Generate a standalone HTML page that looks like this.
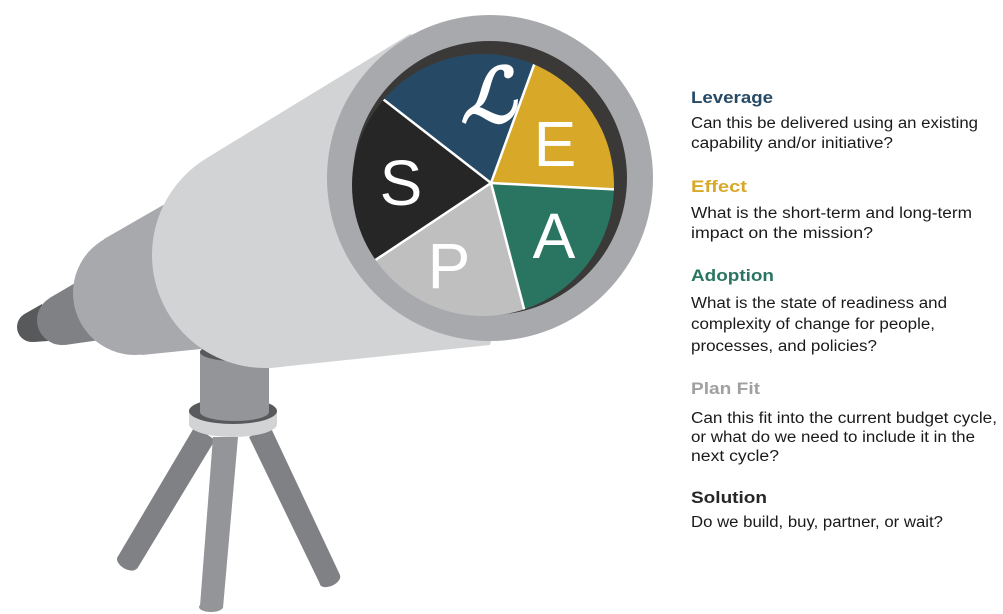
<!DOCTYPE html>
<html><head><meta charset="utf-8"><style>html,body{margin:0;padding:0;background:#fff}svg{display:block}</style></head>
<body>
<svg width="1003" height="614" viewBox="0 0 1003 614" xmlns="http://www.w3.org/2000/svg">
<defs><clipPath id="pie"><circle cx="483" cy="185" r="131"/></clipPath></defs>
<!-- tripod legs -->
<polygon points="195,426 215,440 137,569 117,558" fill="#808184"/>
<ellipse cx="127" cy="563" rx="11" ry="6" transform="rotate(30 127 563)" fill="#808184"/>
<polygon points="249,437 270,426 340,575 320,584" fill="#808184"/>
<ellipse cx="330" cy="580" rx="11" ry="6" transform="rotate(-25 330 580)" fill="#808184"/>
<polygon points="213,437 238,437 223,608 200,606" fill="#939598"/>
<ellipse cx="211" cy="607" rx="12" ry="5" fill="#939598"/>
<!-- collar -->
<ellipse cx="233" cy="424" rx="44" ry="13" fill="#d1d3d4"/>
<rect x="189" y="411" width="88" height="13" fill="#d1d3d4"/>
<ellipse cx="233" cy="411" rx="44" ry="13" fill="#58595b"/>
<!-- post -->
<rect x="200" y="352" width="69" height="60" fill="#939598"/>
<ellipse cx="234.5" cy="412" rx="34.5" ry="9" fill="#939598"/>
<ellipse cx="234.5" cy="352" rx="34.5" ry="9" fill="#58595b"/>
<!-- eyepiece sections -->
<polygon points="24.5,314 42,304 48,341 34,342" fill="#58595b"/>
<circle cx="32" cy="327" r="15" fill="#58595b"/>
<polygon points="49.5,298 82,279 100,340 65,345" fill="#808184"/>
<circle cx="62" cy="320" r="25" fill="#808184"/>
<polygon points="104,239 165,204 240,345 142,355" fill="#a7a9ac"/>
<circle cx="135" cy="293" r="62" fill="#a7a9ac"/>
<!-- main tube -->
<polygon points="206,158.5 410,34 560,100 490,345 270,368" fill="#d1d3d4"/>
<circle cx="265" cy="255" r="113" fill="#d1d3d4"/>
<!-- lens ring -->
<circle cx="490" cy="178" r="163" fill="#a7a9ac"/>
<circle cx="490" cy="178" r="137" fill="#3a3937"/>
<g clip-path="url(#pie)">
<polygon points="491,183 533,67 540,-20 380,-20 350,60 380,97" fill="#264a66"/>
<polygon points="491,183 533,67 580,-20 700,0 700,190 614,190" fill="#d8a829"/>
<polygon points="491,183 614,190 700,190 700,340 525,312" fill="#2a7561"/>
<polygon points="491,183 525,312 540,360 340,360 340,280 378,258" fill="#bfbfbf"/>
<polygon points="491,183 378,258 330,285 330,60 380,97" fill="#262626"/>
<g stroke="#fff" stroke-width="2.5">
<line x1="491" y1="183" x2="538" y2="54"/>
<line x1="491" y1="183" x2="625" y2="190"/>
<line x1="491" y1="183" x2="528" y2="324"/>
<line x1="491" y1="183" x2="368" y2="265"/>
<line x1="491" y1="183" x2="370" y2="89"/>
</g>
</g>
<g fill="#fff" font-family="Liberation Sans, sans-serif" font-size="64" text-anchor="middle">
<text x="401" y="205">S</text>
<text x="555" y="166">E</text>
<text x="554" y="258">A</text>
<text x="449" y="288">P</text>
</g>
<text x="488" y="122" fill="#fff" font-family="Liberation Serif, serif" font-style="italic" font-weight="bold" font-size="76" text-anchor="middle">ℒ</text>
<!-- text -->
<g font-family="Liberation Sans, sans-serif" font-size="17" font-weight="bold">
<text x="691" y="103" fill="#264a66" textLength="82" lengthAdjust="spacingAndGlyphs">Leverage</text>
<text x="691" y="192" fill="#d8a829" textLength="56" lengthAdjust="spacingAndGlyphs">Effect</text>
<text x="691" y="281" fill="#2a7561" textLength="83" lengthAdjust="spacingAndGlyphs">Adoption</text>
<text x="691" y="394" fill="#a0a0a0" textLength="69" lengthAdjust="spacingAndGlyphs">Plan Fit</text>
<text x="691" y="503" fill="#262626" textLength="76" lengthAdjust="spacingAndGlyphs">Solution</text>
</g>
<g font-family="Liberation Sans, sans-serif" font-size="15.5" fill="#1a1a1a">
<text x="691" y="128" textLength="287" lengthAdjust="spacingAndGlyphs">Can this be delivered using an existing</text>
<text x="691" y="148" textLength="202" lengthAdjust="spacingAndGlyphs">capability and/or initiative?</text>
<text x="691" y="218" textLength="281" lengthAdjust="spacingAndGlyphs">What is the short-term and long-term</text>
<text x="691" y="238" textLength="182" lengthAdjust="spacingAndGlyphs">impact on the mission?</text>
<text x="691" y="308" textLength="256" lengthAdjust="spacingAndGlyphs">What is the state of readiness and</text>
<text x="691" y="329" textLength="244" lengthAdjust="spacingAndGlyphs">complexity of change for people,</text>
<text x="691" y="351" textLength="186" lengthAdjust="spacingAndGlyphs">processes, and policies?</text>
<text x="691" y="423" textLength="306" lengthAdjust="spacingAndGlyphs">Can this fit into the current budget cycle,</text>
<text x="691" y="442" textLength="284" lengthAdjust="spacingAndGlyphs">or what do we need to include it in the</text>
<text x="691" y="461" textLength="88" lengthAdjust="spacingAndGlyphs">next cycle?</text>
<text x="691" y="527" textLength="252" lengthAdjust="spacingAndGlyphs">Do we build, buy, partner, or wait?</text>
</g>
</svg>
</body></html>
